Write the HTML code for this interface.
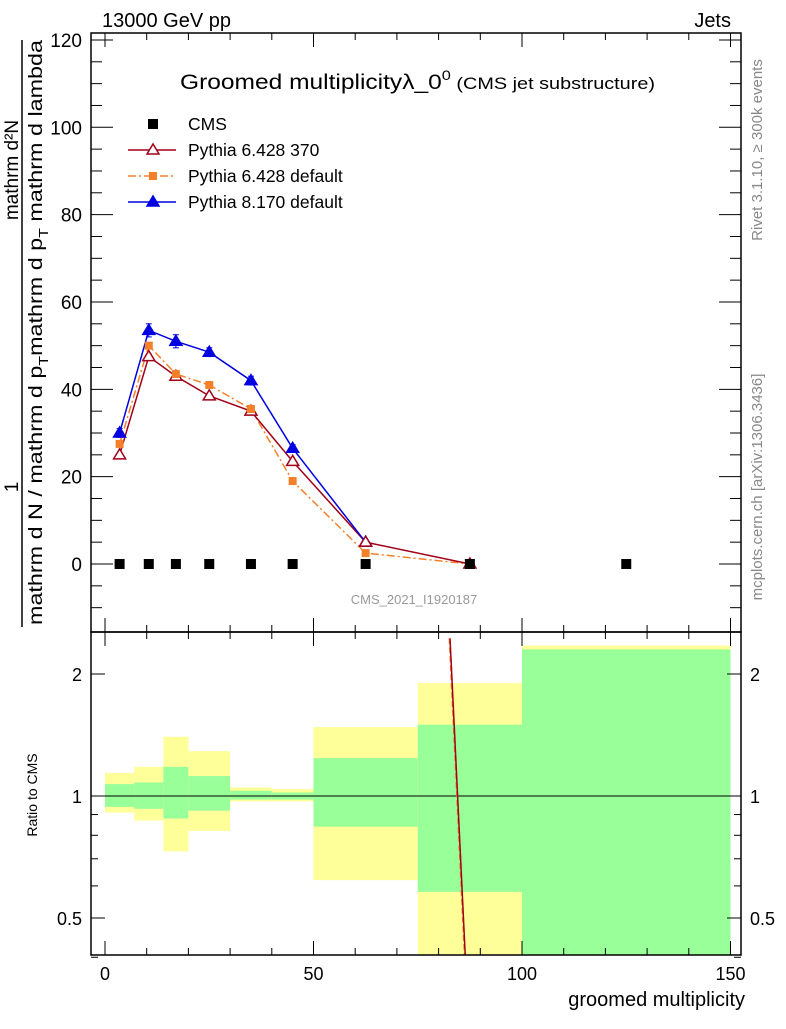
<!DOCTYPE html>
<html><head><meta charset="utf-8"><style>
body{margin:0;background:#fff;width:786px;height:1024px;overflow:hidden}
svg{font-family:"Liberation Sans",sans-serif}
</style></head><body>
<svg id="c" width="786" height="1024" xmlns="http://www.w3.org/2000/svg">
<text x="102" y="27" font-size="20">13000 GeV pp</text>
<text x="731" y="27" font-size="20" text-anchor="end">Jets</text>
<text x="180" y="89" font-size="21" textLength="475" lengthAdjust="spacingAndGlyphs">Groomed multiplicityλ_0<tspan font-size="14" dy="-9">0</tspan><tspan font-size="17" dy="9"> (CMS jet substructure)</tspan></text>
<text x="414" y="604" font-size="13" fill="#999" text-anchor="middle">CMS_2021_I1920187</text>
<text transform="translate(762,150) rotate(-90)" font-size="15" fill="#888" text-anchor="middle">Rivet 3.1.10, ≥ 300k events</text>
<text transform="translate(762,487) rotate(-90)" font-size="15" fill="#888" text-anchor="middle">mcplots.cern.ch [arXiv:1306.3436]</text>
<text transform="translate(18,170) rotate(-90)" font-size="19" text-anchor="middle">mathrm d²N</text>
<line x1="22" y1="40" x2="22" y2="627" stroke="#000" stroke-width="1.5"/>
<text transform="translate(18,487) rotate(-90)" font-size="19" text-anchor="middle">1</text>
<text transform="translate(42,625) rotate(-90)" font-size="19" textLength="585" lengthAdjust="spacingAndGlyphs">mathrm d N / mathrm d p<tspan font-size="13" dy="6">T</tspan><tspan dy="-6">mathrm d p</tspan><tspan font-size="13" dy="6">T</tspan><tspan dy="-6"> mathrm d lambda</tspan></text>
<text transform="translate(37,795) rotate(-90)" font-size="14" text-anchor="middle">Ratio to CMS</text>
<text x="745" y="1006" font-size="20" text-anchor="end">groomed multiplicity</text>
<g id="g"></g>
</svg>
<script>
const edges=[0,7,14,20,30,40,50,75,100,150];
const xc=[3.5,10.5,17,25,35,45,62.5,87.5,125];
const cms=[0,0,0,0,0,0,0,0,0];
const py6_370=[25,47.5,43,38.5,35,23.5,5,0];
const py6_def=[27.5,50,43.5,41,35.5,19,2.5,0];
const py8=[30,53.5,51,48.5,42,26.5,5];
const py8err=[1,1.5,1.5,1,1,0.8,0.5];
const greenLo=[0.94,0.93,0.88,0.92,0.98,0.98,0.84,0.58,0.3];
const greenHi=[1.07,1.08,1.18,1.12,1.03,1.02,1.24,1.5,2.3];
const yelLo=[0.91,0.87,0.73,0.82,0.97,0.97,0.62,0.3,0.3];
const yelHi=[1.14,1.18,1.4,1.29,1.05,1.04,1.48,1.9,2.35];
const xTicks=[0,50,100,150];
const yTicks=[0,20,40,60,80,100,120];
const rTicks=[0.5,1,2];
const ratioLine=[[82.5,2.45],[86.5,0.34]];
const NS="http://www.w3.org/2000/svg";
const X=v=>105+4.17*v;
const Y=v=>564-4.367*v;
const R=r=>796-122*Math.log2(r);
const g=document.getElementById('g');
function el(t,a,p){const e=document.createElementNS(NS,t);for(const k in a)e.setAttribute(k,a[k]);(p||g).appendChild(e);return e;}
const clip=el('clipPath',{id:'rc'});el('rect',{x:91,y:633,width:650,height:322},clip);
const rg=el('g',{'clip-path':'url(#rc)'});
for(let i=0;i<edges.length-1;i++){
 let b=el('rect',{x:X(edges[i]),y:R(yelHi[i]),width:X(edges[i+1])-X(edges[i]),height:R(yelLo[i])-R(yelHi[i]),fill:'#ffff99'},rg);
 
 b=el('rect',{x:X(edges[i]),y:R(greenHi[i]),width:X(edges[i+1])-X(edges[i]),height:R(greenLo[i])-R(greenHi[i]),fill:'#99ff99'},rg);
 
}
el('line',{x1:91,x2:741,y1:R(1),y2:R(1),stroke:'#000'},rg);
el('line',{x1:X(ratioLine[0][0]),y1:R(ratioLine[0][1]),x2:X(ratioLine[1][0]),y2:R(ratioLine[1][1]),stroke:'#f5802a','stroke-dasharray':'6,3'},rg);
let rl=el('line',{x1:X(ratioLine[0][0])+1,y1:R(ratioLine[0][1]),x2:X(ratioLine[1][0])+1,y2:R(ratioLine[1][1]),stroke:'#a00018','stroke-width':1.5},rg);

el('rect',{x:91,y:33,width:650,height:599,fill:'none',stroke:'#000','stroke-width':1.5});
el('rect',{x:91,y:632,width:650,height:323,fill:'none',stroke:'#000','stroke-width':1.5});
for(let v=0;v<=150;v+=10){const big=v%50==0;
 for(const [yb,dir] of [[632,-1],[955,-1],[33,1],[632,1]]){el('line',{x1:X(v),x2:X(v),y1:yb,y2:yb+dir*(big?14:7),stroke:'#000'});}}
for(const v of xTicks){const t=el('text',{x:X(v),y:980,'font-size':18,'text-anchor':'middle'});t.textContent=v;
 }
for(let v=-10;v<=120;v+=5){const big=v%20==0;
 el('line',{x1:91,x2:91+(big?22:11),y1:Y(v),y2:Y(v),stroke:'#000'});
 el('line',{x1:741,x2:741-(big?22:11),y1:Y(v),y2:Y(v),stroke:'#000'});}
for(const v of yTicks){const t=el('text',{x:82,y:Y(v)+7,'font-size':19,'text-anchor':'end'});t.textContent=v;
 }
for(const r of [0.4,0.5,0.6,0.7,0.8,0.9,1,2]){const big=[0.5,1,2].includes(r);
 el('line',{x1:91,x2:91+(big?14:7),y1:R(r),y2:R(r),stroke:'#000'});
 el('line',{x1:741,x2:741-(big?14:7),y1:R(r),y2:R(r),stroke:'#000'});}
for(const r of rTicks){for(const [x,a] of [[82,'end'],[750,'start']]){const t=el('text',{x:x,y:R(r)+7,'font-size':18,'text-anchor':a});t.textContent=r;
 }}
function line(vals,color,dash,name){const pts=vals.map((v,i)=>X(xc[i])+','+Y(v)).join(' ');
 const p=el('polyline',{points:pts,fill:'none',stroke:color,'stroke-width':1.5,'stroke-dasharray':dash||''});
 }
line(py6_def,'#f5802a','8,3,2,3','py6-default-line');
line(py6_370,'#a00018','','py6-370-line');
line(py8,'#0000e0','','py8-line');
function tri(x,y,fill,stroke){return el('polygon',{points:`${x},${y-6} ${x-6},${y+4} ${x+6},${y+4}`,fill:fill,stroke:stroke,'stroke-width':1.5});}
py8.forEach((v,i)=>{const x=X(xc[i]);
 el('line',{x1:x,x2:x,y1:Y(v+py8err[i]),y2:Y(v-py8err[i]),stroke:'#0000e0'});
 el('line',{x1:x-3,x2:x+3,y1:Y(v+py8err[i]),y2:Y(v+py8err[i]),stroke:'#0000e0'});
 el('line',{x1:x-3,x2:x+3,y1:Y(v-py8err[i]),y2:Y(v-py8err[i]),stroke:'#0000e0'});
 const m=tri(x,Y(v),'#0000e0','#0000e0');});
py6_370.forEach((v,i)=>{const m=tri(X(xc[i]),Y(v),'#fff','#a00018');});
py6_def.forEach((v,i)=>{const m=el('rect',{x:X(xc[i])-4,y:Y(v)-4,width:8,height:8,fill:'#f5802a'});});
cms.forEach((v,i)=>{const m=el('rect',{x:X(xc[i])-5,y:Y(v)-5,width:10,height:10,fill:'#000'});});
const lg=[['CMS','cms'],['Pythia 6.428 370','#a00018'],['Pythia 6.428 default','#f5802a'],['Pythia 8.170 default','#0000e0']];
lg.forEach((l,i)=>{const y=124+26*i;
 const t=el('text',{x:188,y:y+6,'font-size':17.5});t.textContent=l[0];
 
 if(i==0){el('rect',{x:148,y:y-5,width:10,height:10,fill:'#000'});return;}
 el('line',{x1:128,x2:176,y1:y,y2:y,stroke:l[1],'stroke-width':1.5,'stroke-dasharray':i==2?'8,3,2,3':''});
 if(i==1)tri(153,y,'#fff',l[1]);else if(i==2)el('rect',{x:149,y:y-4,width:8,height:8,fill:l[1]});else tri(153,y,l[1],l[1]);
});
</script>
</body></html>
